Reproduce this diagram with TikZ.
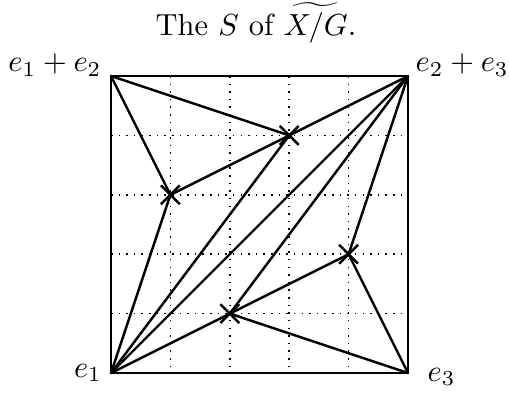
\documentclass[tikz,border=0pt]{standalone}
\usetikzlibrary{shapes.misc}
\tikzset{
  edge/.style={line width=0.8pt, line cap=round, line join=round},
  gridline/.style={dotted, line width=0.5pt},
  xmark/.style={cross out, draw, line width=0.8pt, minimum size=5.4pt, inner sep=0pt},
  lab/.style={inner sep=0pt, font=\normalsize}
}
\begin{document}
\begin{tikzpicture}[x=0.328pt, y=-0.328pt]
\useasboundingbox (0,0) rectangle (509,392);
% corners
\coordinate (A) at (111,373);   % e1
\coordinate (B) at (408,373);   % e3
\coordinate (C) at (408,76);    % e2+e3
\coordinate (D) at (111,76);    % e1+e2
% interior points
\coordinate (P13) at (170.4,194.8);
\coordinate (P34) at (289.2,135.4);
\coordinate (P21) at (229.8,313.6);
\coordinate (P42) at (348.6,254.2);
% dotted grid
\foreach \k in {1,2,3,4} {
  \draw[gridline] ({111+59.4*\k},76) -- ({111+59.4*\k},373);
  \draw[gridline] (111,{373-59.4*\k}) -- (408,{373-59.4*\k});
}
% square
\draw[edge] (A) -- (B) -- (C) -- (D) -- cycle;
% edges
\draw[edge] (D) -- (P13);
\draw[edge] (D) -- (P34);
\draw[edge] (P13) -- (P34);
\draw[edge] (A) -- (P13);
\draw[edge] (A) -- (P34);
\draw[edge] (A) -- (C);
\draw[edge] (A) -- (P21);
\draw[edge] (C) -- (P34);
\draw[edge] (C) -- (P21);
\draw[edge] (C) -- (P42);
\draw[edge] (P21) -- (P42);
\draw[edge] (B) -- (P21);
\draw[edge] (B) -- (P42);
% crosses
\node[xmark] (m13) at (P13) {};
\node[xmark] (m34) at (P34) {};
\node[xmark] (m21) at (P21) {};
\node[xmark] (m42) at (P42) {};
% labels
\node[lab, anchor=base east] (lD) at (102,71.5) {$e_1+e_2$};
\node[lab, anchor=base west] (lC) at (415,71.5) {$e_2+e_3$};
\node[lab, anchor=base east] (lA) at (102.5,377) {$e_1$};
\node[lab, anchor=base west] (lB) at (427,381) {$e_3$};
% title
\node[lab, anchor=base] (title) at (256,35) {The $S$ of $\widetilde{X/G}$.};
\end{tikzpicture}
\end{document}
